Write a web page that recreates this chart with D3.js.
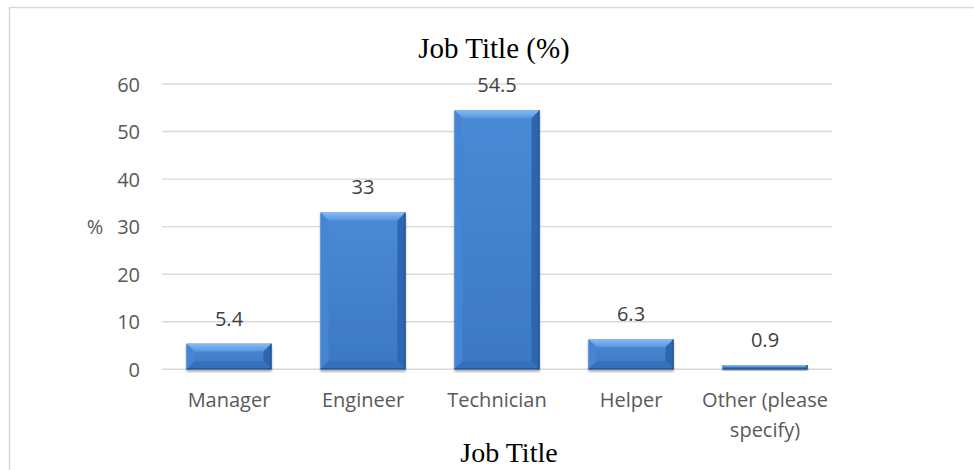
<!DOCTYPE html>
<html>
<head>
<meta charset="utf-8">
<script src="https://cdn.jsdelivr.net/npm/d3@7"></script>
<style>
  html, body { margin: 0; padding: 0; background: #fff; }
  svg { display: block; }
</style>
</head>
<body>
<svg id="chart" width="974" height="470"></svg>
<script>
// Job title distribution (%)
const categories = ["Manager", "Engineer", "Technician", "Helper", "Other (please specify)"];
const values = [5.4, 33, 54.5, 6.3, 0.9];
const yTicks = [0, 10, 20, 30, 40, 50, 60];
const chartTitle = "Job Title (%)";
const xAxisTitle = "Job Title";
const yAxisTitle = "%";

const svg = d3.select("#chart");
const W = 974, H = 470;
const plot = { left: 162, right: 832, top: 84, bottom: 369.3 };

// chart frame (top and left edges visible)
svg.append("path")
  .attr("d", `M9.5,${H} V7.5 H${W}`)
  .attr("fill", "none")
  .attr("stroke", "#d9d9d9")
  .attr("stroke-width", 1.5);

const x = d3.scaleBand()
  .domain(categories)
  .range([plot.left, plot.right])
  .paddingInner(0.366)
  .paddingOuter(0.183);

const y = d3.scaleLinear()
  .domain([0, 60])
  .range([plot.bottom, plot.top]);

// gridlines
svg.append("g")
  .selectAll("line")
  .data(yTicks)
  .join("line")
  .attr("x1", plot.left).attr("x2", plot.right)
  .attr("y1", d => y(d)).attr("y2", d => y(d))
  .attr("stroke", "#d9d9d9")
  .attr("stroke-width", 1.4);

// y axis tick labels
const yAxis = d3.axisLeft(y).tickValues(yTicks).tickSize(0).tickPadding(0);
const gy = svg.append("g").attr("transform", "translate(140,0)").call(yAxis);
gy.select(".domain").remove();
gy.selectAll("text")
  .attr("font-family", "'Open Sans', sans-serif")
  .attr("font-size", 20)
  .attr("fill", "#595959")
  .attr("dy", "0.35em");

// y axis title
svg.append("text")
  .attr("x", 95).attr("y", y(30))
  .attr("dy", "0.35em")
  .attr("text-anchor", "middle")
  .attr("font-family", "'Open Sans', sans-serif")
  .attr("font-size", 20)
  .attr("fill", "#595959")
  .text(yAxisTitle);

// bar shadow
const defs = svg.append("defs");
const f = defs.append("filter").attr("id", "shadow")
  .attr("x", "-10%").attr("y", "-10%").attr("width", "120%").attr("height", "140%");
f.append("feGaussianBlur").attr("in", "SourceAlpha").attr("stdDeviation", 1.2);
f.append("feOffset").attr("dx", 0).attr("dy", 2).attr("result", "ob");
f.append("feComponentTransfer").append("feFuncA").attr("type", "linear").attr("slope", 0.35);
const fm = f.append("feMerge");
fm.append("feMergeNode");
fm.append("feMergeNode").attr("in", "SourceGraphic");

const gFace = defs.append("linearGradient").attr("id", "face")
  .attr("x1", 0).attr("y1", 0).attr("x2", 0).attr("y2", 1);
gFace.append("stop").attr("offset", 0).attr("stop-color", "#4a8ad6");
gFace.append("stop").attr("offset", 1).attr("stop-color", "#3c78c4");

const gTop = defs.append("linearGradient").attr("id", "topb")
  .attr("x1", 0).attr("y1", 0).attr("x2", 0).attr("y2", 1);
gTop.append("stop").attr("offset", 0).attr("stop-color", "#86bbf2");
gTop.append("stop").attr("offset", 1).attr("stop-color", "#5596e0");

// bevelled bars
const bars = svg.append("g").selectAll("g")
  .data(categories.map((c, i) => ({ c, v: values[i] })))
  .join("g")
  .attr("filter", "url(#shadow)");

bars.each(function(d) {
  const g = d3.select(this);
  const x0 = x(d.c), x1 = x0 + x.bandwidth();
  const y0 = y(d.v), y1 = y(0);
  const h = y1 - y0;
  const b = Math.min(8, h / 2, x.bandwidth() / 2);
  const pts = a => a.map(p => p.join(",")).join(" ");
  g.append("rect")
    .attr("x", x0).attr("y", y0).attr("width", x1 - x0).attr("height", h)
    .attr("fill", "url(#face)");
  // top bevel
  g.append("polygon").attr("points", pts([[x0, y0], [x1, y0], [x1 - b, y0 + b], [x0 + b, y0 + b]]))
    .attr("fill", "url(#topb)");
  // left bevel
  g.append("polygon").attr("points", pts([[x0, y0], [x0 + b, y0 + b], [x0 + b, y1 - b], [x0, y1]]))
    .attr("fill", "#4585d3");
  // right bevel
  g.append("polygon").attr("points", pts([[x1, y0], [x1, y1], [x1 - b, y1 - b], [x1 - b, y0 + b]]))
    .attr("fill", "#2f66ad");
  // bottom bevel
  g.append("polygon").attr("points", pts([[x0, y1], [x0 + b, y1 - b], [x1 - b, y1 - b], [x1, y1]]))
    .attr("fill", "#3570bb");
  // outline edges
  g.append("line").attr("x1", x1 - 0.5).attr("x2", x1 - 0.5).attr("y1", y0).attr("y2", y1)
    .attr("stroke", "#1f4f8c").attr("stroke-width", 1);
  g.append("line").attr("x1", x0).attr("x2", x1).attr("y1", y1 - 0.5).attr("y2", y1 - 0.5)
    .attr("stroke", "#214f8a").attr("stroke-width", 1);
});

// value labels
svg.append("g").selectAll("text")
  .data(categories.map((c, i) => ({ c, v: values[i] })))
  .join("text")
  .attr("x", d => x(d.c) + x.bandwidth() / 2)
  .attr("y", d => y(d.v) - 18)
  .attr("text-anchor", "middle")
  .attr("font-family", "'Open Sans', sans-serif")
  .attr("font-size", 20)
  .attr("fill", "#404040")
  .text(d => d.v);

// category labels (wrapped)
const xAxis = d3.axisBottom(x).tickSize(0).tickPadding(0);
const gx = svg.append("g").attr("transform", `translate(0,${plot.bottom})`).call(xAxis);
gx.select(".domain").remove();
gx.selectAll("text").each(function(d) {
  const t = d3.select(this);
  t.text(null)
    .attr("y", 0).attr("dy", null)
    .attr("font-family", "'Open Sans', sans-serif")
    .attr("font-size", 20)
    .attr("fill", "#595959");
  const lines = d === "Other (please specify)" ? ["Other (please", "specify)"] : [d];
  lines.forEach((ln, i) => {
    t.append("tspan").attr("x", 0).attr("y", 38 + i * 29.5).text(ln);
  });
});

// chart title
svg.append("text")
  .attr("x", 494).attr("y", 57.5)
  .attr("text-anchor", "middle")
  .attr("font-family", "'Liberation Serif', 'Times New Roman', serif")
  .attr("font-size", 29)
  .attr("fill", "#000")
  .text(chartTitle);

// x axis title
svg.append("text")
  .attr("x", 509).attr("y", 462)
  .attr("text-anchor", "middle")
  .attr("font-family", "'Liberation Serif', 'Times New Roman', serif")
  .attr("font-size", 28)
  .attr("fill", "#000")
  .text(xAxisTitle);
</script>
</body>
</html>
